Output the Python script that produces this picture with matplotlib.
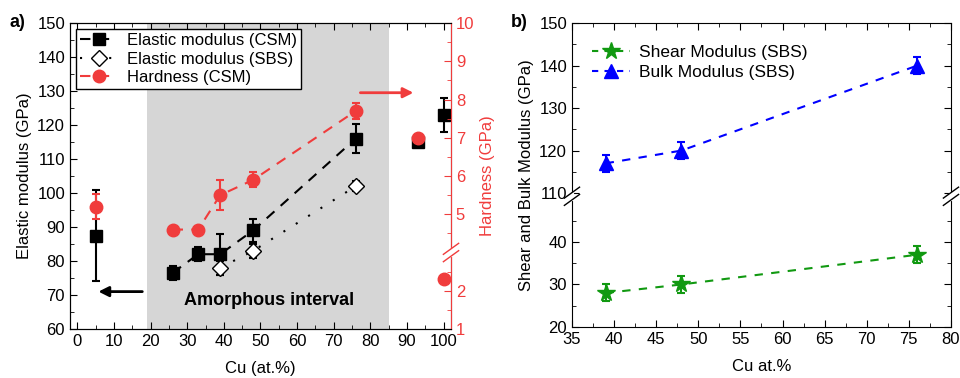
import matplotlib.pyplot as plt
from matplotlib.ticker import MultipleLocator, FixedLocator
from matplotlib.lines import Line2D
import numpy as np

plt.rcParams['font.family'] = ['Liberation Sans', 'DejaVu Sans']
plt.rcParams['font.size'] = 12

RED = '#f03c3c'
GREEN = '#119911'
BLUE = '#0000ff'

# ---- panel a) data ----
cu_csm = [5, 26, 33, 39, 48, 76, 93, 100]
e_csm = [87.5, 76.5, 82, 82, 89, 116, 115, 123]
e_csm_err = [13.5, 2, 2, 6, 3.5, 4.3, 1, 5]

cu_sbs = [39, 48, 76]
e_sbs = [78, 83, 102]
e_sbs_err = [2, 2, 1.5]

cu_h = [5, 26, 33, 39, 48, 76, 93, 100]
hard = [5.2, 4.6, 4.6, 5.5, 5.9, 7.7, 7.0, 2.3]
hard_err = [0.33, 0.05, 0.05, 0.4, 0.2, 0.2, 0.05, 0.05]

# ---- panel b) data ----
cu_b = [39, 48, 76]
shear = [28, 30, 37]
shear_err = [2, 2, 2]
bulk = [117, 120, 140]
bulk_err = [2, 2, 2]


def hfwd(h):
    h = np.asarray(h, float)
    return np.where(h >= 4, h - 1, np.minimum(h, 3))


def hinv(y):
    y = np.asarray(y, float)
    return np.where(y >= 3, y + 1, y)


def bfwd(v):
    v = np.asarray(v, float)
    return np.where(v >= 80, v - 58.5, np.minimum(v, 50))


def binv(t):
    t = np.asarray(t, float)
    return np.where(t > 50.75, t + 58.5, t)


def axis_break(ax, xfrac, yfrac, color='k'):
    # white gap in spine plus two slanted marks
    ax.plot([xfrac, xfrac], [yfrac - 0.008, yfrac + 0.008], transform=ax.transAxes,
            color='white', lw=3, clip_on=False, zorder=10)
    for dy in (-0.012, 0.012):
        ax.plot([xfrac - 0.02, xfrac + 0.02], [yfrac + dy - 0.018, yfrac + dy + 0.018],
                transform=ax.transAxes, color=color, lw=1.0, clip_on=False, zorder=11)


fig = plt.figure(figsize=(9.6, 3.78), dpi=100)
ax1 = fig.add_axes([0.0729, 0.1296, 0.3969, 0.8095])
ax3 = fig.add_axes([0.5958, 0.135, 0.3948, 0.804])

# ---------------- panel a ----------------
ax1.axvspan(19, 85, color='#d6d6d6', zorder=0, lw=0)
ax1.errorbar(cu_csm, e_csm, yerr=e_csm_err, fmt='s', color='k', ms=9, capsize=3,
             elinewidth=1.5, capthick=1.5, zorder=4)
ax1.plot(cu_csm[1:6], e_csm[1:6], ls=(0, (5, 4)), color='k', lw=1.5, zorder=3)
ax1.errorbar(cu_sbs, e_sbs, yerr=e_sbs_err, fmt='D', mfc='white', mec='k', color='k',
             ms=8, capsize=3, elinewidth=1.5, capthick=1.5, zorder=4)
ax1.plot(cu_sbs, e_sbs, ls=(0, (1, 6)), color='k', lw=1.5, zorder=3)

ax1.set_xlim(-2, 102)
ax1.set_ylim(60, 150)
ax1.xaxis.set_major_locator(MultipleLocator(10))
ax1.xaxis.set_minor_locator(MultipleLocator(5))
ax1.yaxis.set_major_locator(MultipleLocator(10))
ax1.yaxis.set_minor_locator(MultipleLocator(5))
ax1.tick_params(which='both', direction='in', top=True)
ax1.tick_params(which='major', length=5)
ax1.tick_params(which='minor', length=3)
ax1.set_xlabel('Cu (at.%)', labelpad=9)
ax1.set_ylabel('Elastic modulus (GPa)')

ax1.annotate('', xy=(5, 71), xytext=(18.5, 71),
             arrowprops=dict(arrowstyle='-|>', color='k', lw=2, mutation_scale=15))
ax1.annotate('', xy=(92.5, 129.5), xytext=(76.5, 129.5),
             arrowprops=dict(arrowstyle='-|>', color=RED, lw=2, mutation_scale=15))
ax1.text(29, 68.3, 'Amorphous interval', fontsize=13, fontweight='bold', va='center')

ax2 = ax1.twinx()
ax2.set_yscale('function', functions=(hfwd, hinv))
ax2.errorbar(cu_h, hard, yerr=hard_err, fmt='o', color=RED, ms=9, capsize=3,
             elinewidth=1.5, capthick=1.5, zorder=4)
ax2.plot(cu_h[1:6], hard[1:6], ls=(0, (5, 4)), color=RED, lw=1.5, zorder=3)
ax2.set_ylim(1, 10)
ax2.yaxis.set_major_locator(FixedLocator([1, 2, 5, 6, 7, 8, 9, 10]))
ax2.yaxis.set_minor_locator(FixedLocator([1.5, 2.5, 4.5, 5.5, 6.5, 7.5, 8.5, 9.5]))
ax2.yaxis.set_major_formatter(plt.FuncFormatter(lambda v, p: '%d' % round(v)))
ax2.tick_params(which='both', direction='in', colors=RED)
ax2.tick_params(which='major', length=5)
ax2.tick_params(which='minor', length=3)
ax2.spines['right'].set_color(RED)
ax2.set_ylabel('Hardness (GPa)', color=RED)
axis_break(ax2, 1.0, 0.25, color=RED)

handles = [
    Line2D([], [], color='k', ls=(0, (5, 4)), marker='s', ms=9, lw=1.5),
    Line2D([], [], color='k', ls=(0, (1, 6)), marker='D', mfc='white', ms=8, lw=1.5),
    Line2D([], [], color=RED, ls=(0, (5, 4)), marker='o', ms=9, lw=1.5),
]
labels = ['Elastic modulus (CSM)', 'Elastic modulus (SBS)', 'Hardness (CSM)']
leg = ax2.legend(handles, labels, loc='upper left', bbox_to_anchor=(0.016, 0.98),
                 frameon=True, fancybox=False, edgecolor='k', framealpha=1,
                 borderpad=0.25, labelspacing=0.2, handlelength=2.2, handletextpad=0.6,
                 borderaxespad=0.0, fontsize=12)
leg.get_frame().set_linewidth(1.0)

fig.text(0.01, 0.94, 'a)', fontsize=13, fontweight='bold', va='center')

# ---------------- panel b ----------------
ax3.set_yscale('function', functions=(bfwd, binv))
ax3.errorbar(cu_b, shear, yerr=shear_err, fmt='*', color=GREEN, ms=13, capsize=3,
             elinewidth=1.5, capthick=1.5, zorder=4)
ax3.plot(cu_b, shear, ls=(0, (4, 4)), color=GREEN, lw=1.5, zorder=3)
ax3.errorbar(cu_b, bulk, yerr=bulk_err, fmt='^', color=BLUE, ms=10, capsize=3,
             elinewidth=1.5, capthick=1.5, zorder=4)
ax3.plot(cu_b, bulk, ls=(0, (4, 4)), color=BLUE, lw=1.5, zorder=3)
ax3.set_xlim(35, 80)
ax3.set_ylim(20, 150)
ax3.xaxis.set_major_locator(MultipleLocator(5))
ax3.xaxis.set_minor_locator(MultipleLocator(2.5))
ax3.yaxis.set_major_locator(FixedLocator([20, 30, 40, 110, 120, 130, 140, 150]))
ax3.yaxis.set_minor_locator(FixedLocator([25, 35, 45, 115, 125, 135, 145]))
ax3.yaxis.set_major_formatter(plt.FuncFormatter(lambda v, p: '%d' % round(v)))
ax3.tick_params(which='both', direction='in', top=True, right=True)
ax3.tick_params(which='major', length=5)
ax3.tick_params(which='minor', length=3)
ax3.set_xlabel('Cu at.%', labelpad=9)
ax3.set_ylabel('Shear and Bulk Modulus (GPa)')
yb = (50.75 - 20) / 71.5
axis_break(ax3, 0.0, yb)
axis_break(ax3, 1.0, yb)

handles_b = [
    Line2D([], [], color=GREEN, ls=(0, (3, 3)), marker='*', ms=13, lw=1.5),
    Line2D([], [], color=BLUE, ls=(0, (3, 3)), marker='^', ms=10, lw=1.5),
]
ax3.legend(handles_b, ['Shear Modulus (SBS)', 'Bulk Modulus (SBS)'], loc='upper left',
           bbox_to_anchor=(0.035, 0.95), frameon=False, labelspacing=0.25,
           handlelength=2.2, handletextpad=0.5, borderaxespad=0.0, fontsize=12.5)

fig.text(0.532, 0.94, 'b)', fontsize=13, fontweight='bold', va='center')

fig.savefig('out.png', dpi=100)
